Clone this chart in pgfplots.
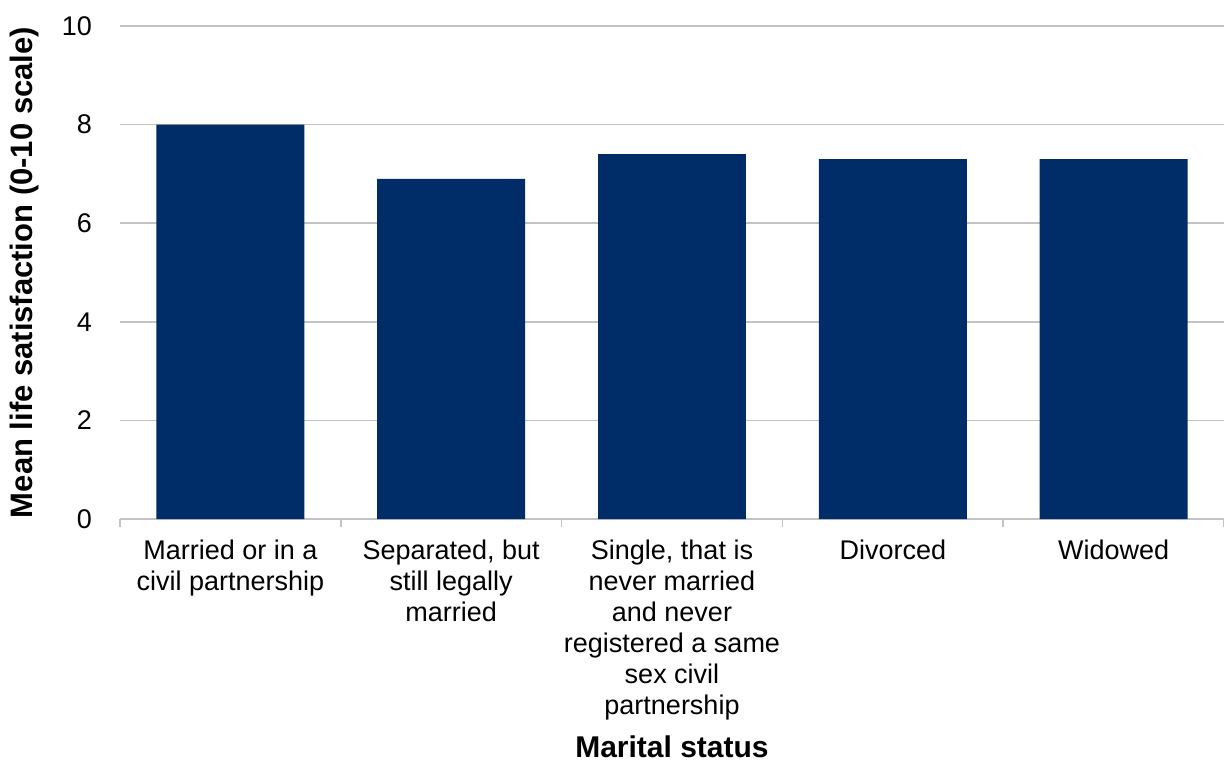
\documentclass[border=0pt]{standalone}
\usepackage{fontspec}
\setmainfont{Liberation Sans}
\usepackage{pgfplots}
\pgfplotsset{compat=1.18}
\definecolor{barblue}{RGB}{0,45,104}
\definecolor{gridgray}{RGB}{195,195,195}
\begin{document}
\begin{tikzpicture}
\begin{axis}[
  scale only axis, width=552pt, height=246.5pt,
  xmin=-0.5, xmax=4.5, ymin=0, ymax=10,
  ytick={0,2,...,10},
  ymajorgrids, grid style={gridgray, line width=0.8pt},
  axis x line*=bottom, axis y line*=left,
  y axis line style={draw=none},
  x axis line style={gridgray, line width=0.8pt, -},
  xtick={0,1,2,3,4},
  xticklabels={{Married or in a\\civil partnership},{Separated, but\\still legally\\married},{Single, that is\\never married\\and never\\registered a same\\sex civil\\partnership},{Divorced},{Widowed}},
  major tick length=0pt,
  minor xtick={-0.5,0.5,1.5,2.5,3.5,4.5},
  minor tick length=4pt,
  tick align=outside,
  xtick style={gridgray, line width=0.8pt},
  ytick style={draw=none},
  xticklabel style={font=\fontsize{13.5}{15.5}\selectfont, align=center, yshift=-7pt},
  yticklabel style={font=\fontsize{13.5}{15.5}\selectfont, xshift=-10.5pt},
  /pgf/number format/assume math mode=true,
  xlabel={\textbf{Marital status}},
  ylabel={\textbf{Mean life satisfaction (0-10 scale)}},
  xlabel style={font=\fontsize{15}{17}\selectfont, inner sep=0pt, yshift=-4pt},
  ylabel style={font=\fontsize{15.5}{17}\selectfont, yshift=4.5pt},
]
\addplot[ybar, bar width=0.67, fill=barblue, draw=none] coordinates {(0,8.0) (1,6.9) (2,7.4) (3,7.3) (4,7.3)};
\end{axis}
\pgfresetboundingbox
\path[use as bounding box] ([xshift=-60pt,yshift=-123.5pt]current axis.south west) rectangle ([yshift=13pt]current axis.north east);
\end{tikzpicture}
\end{document}
